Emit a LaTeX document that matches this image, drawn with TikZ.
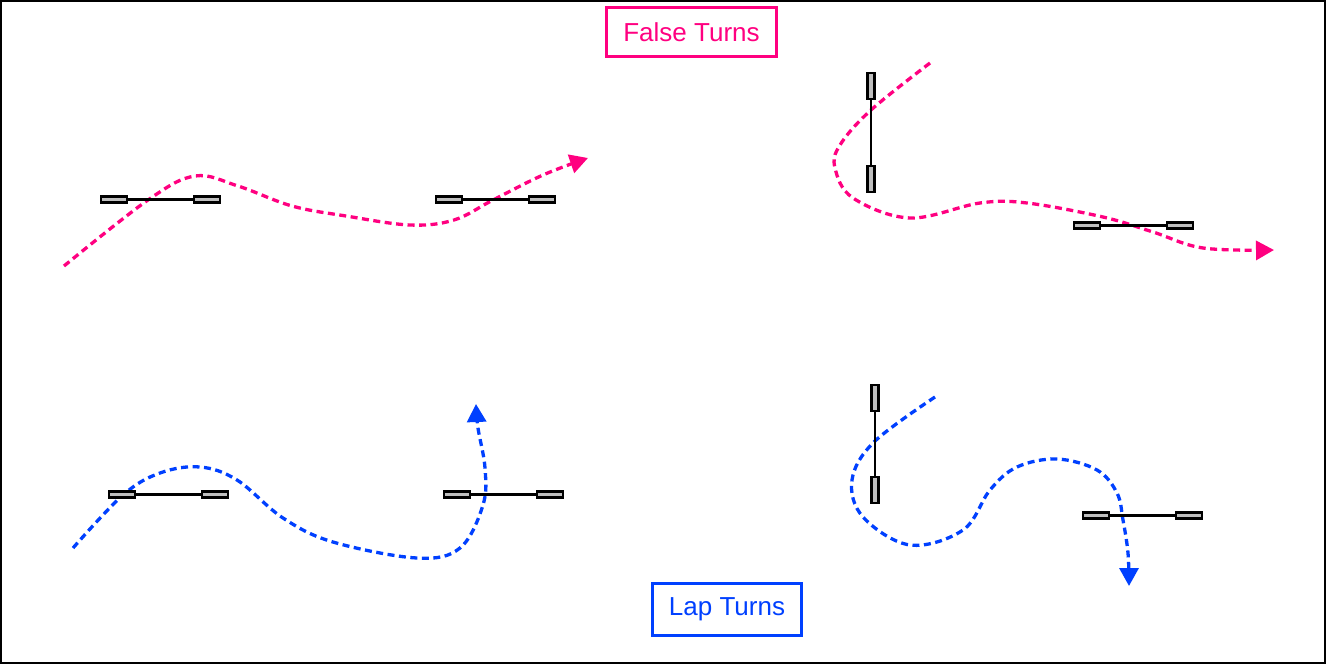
\documentclass[tikz,border=0pt]{standalone}
\usepackage{fontspec}
\setmainfont{Liberation Sans}
\usetikzlibrary{arrows.meta}
\definecolor{fpink}{RGB}{255,0,128}
\definecolor{lblue}{RGB}{0,64,255}
\begin{document}
\begin{tikzpicture}[x=1pt,y=-1pt,
  pad/.style={draw=black,line width=2.9pt,fill=black!25},
  bar/.style={draw=black,line width=2.8pt},
  route/.style={line width=3.3pt,dash pattern=on 7pt off 4.5pt,-{Triangle[length=18pt,width=19pt]}},
  titlebox/.style={draw,line width=3pt,inner sep=0pt,font=\fontsize{26}{30}\selectfont}]
\draw[line width=2pt] (1,1) rectangle (1325,663);
\useasboundingbox (0,0) rectangle (1326,664);
% titles
\node[titlebox,draw=fpink,text=fpink,minimum width=170pt,minimum height=49pt] (ft) at (691.5,32) {False Turns};
\node[titlebox,draw=lblue,text=lblue,minimum width=149pt,minimum height=52pt] (lt) at (727,609.5) {Lap Turns};
% gate helper macros
\newcommand{\hgate}[3]{% left x, y center, right pad left x
  \draw[bar] (#1+27,#2) -- (#3,#2);
  \draw[pad] (#1+1,#2-3.2) rectangle (#1+27,#2+3.2);
  \draw[pad] (#3+1,#2-3.2) rectangle (#3+27,#2+3.2);}
\newcommand{\vgate}[3]{% x center, top y, bottom pad top y
  \draw[bar] (#1,#2+27) -- (#1,#3);
  \draw[pad] (#1-3.2,#2+1) rectangle (#1+3.2,#2+27);
  \draw[pad] (#1-3.2,#3+1) rectangle (#1+3.2,#3+27);}
% routes
\draw[route,draw=fpink] plot[smooth,tension=0.6] coordinates {(64,266) (148,200) (195,176) (238,186) (292,206) (346,216) (410,225) (454,220) (493,200) (543,175) (588,158)};
\draw[route,draw=fpink] plot[smooth,tension=0.6] coordinates {(930,63) (871,110) (840,145) (835,168) (853,198) (910,218) (980,203) (1027,203) (1103,217) (1153,232) (1203,248) (1274,250)};
\draw[route,draw=lblue] plot[smooth,tension=0.6] coordinates {(73,548) (123,495) (160,473) (200,467) (237,480) (283,518) (333,542) (417,558) (460,548) (483,505) (485,468) (478,428) (476,404)};
\draw[route,draw=lblue] plot[smooth,tension=0.6] coordinates {(935,397) (874,442) (852,480) (863,517) (910,545) (963,530) (990,490) (1017,467) (1057,459) (1097,470) (1117,493) (1123,520) (1128,553) (1129,586)};
% gates
\hgate{100}{199.5}{193}
\hgate{435}{199.5}{528}
\vgate{871}{72}{165}
\hgate{1073}{225.5}{1166}
\hgate{108}{494.5}{201}
\hgate{443}{494.5}{536}
\vgate{875}{384}{476}
\hgate{1082}{515.5}{1175}
\end{tikzpicture}
\end{document}
